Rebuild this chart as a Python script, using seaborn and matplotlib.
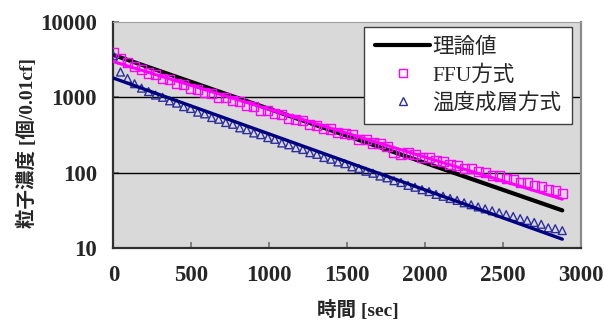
import numpy as np
import pandas as pd
import matplotlib
matplotlib.use("Agg")
import matplotlib.pyplot as plt
from matplotlib.lines import Line2D
import seaborn as sns

# Sampling times [sec] (one reading every 45 s)
time_sec = np.arange(0, 2881, 45)

# Particle concentration, FFU system [count/0.01cf]
ffu = [3880, 3250, 2840, 2540, 2330, 2080, 2000, 1770, 1690, 1510,
       1460, 1310, 1270, 1140, 1100, 990, 980, 890, 870, 770,
       745, 665, 660, 600, 585, 520, 500, 485, 430, 420,
       382, 377, 338, 327, 322, 275, 271, 246, 245, 219,
       183, 176, 181, 175, 159, 158, 143, 140, 127, 125,
       114, 112, 102, 100, 91, 90, 82.5, 81, 74, 73,
       66.7, 64.7, 59, 57.7, 53]

# Particle concentration, thermal stratification system [count/0.01cf]
strat = [3500, 2140, 1760, 1500, 1310, 1180, 1060, 990, 890, 830,
         745, 705, 630, 598, 535, 507, 459, 435, 390, 369,
         334, 317, 290, 275, 246, 233, 213, 202, 183, 174,
         158, 150, 138, 131, 119, 113, 104, 97.8, 89.8, 85.0,
         77.9, 73.7, 67.5, 63.8, 59.2, 55.9, 51.3, 48.4, 45.3, 42.7,
         39.7, 37.4, 35.0, 33.0, 31.1, 29.3, 27.7, 26.1, 24.5, 23.2,
         21.8, 20.6, 18.5, 18.0, 17.0]

# Theoretical decay and exponential trend lines (start / end values)
line_t = [0, 2880]
theory = [3600, 31.5]
ffu_trend = [2940, 44.3]
strat_trend = [1780, 13.1]

x_ticks = [0, 500, 1000, 1500, 2000, 2500, 3000]
y_ticks = [10, 100, 1000, 10000]

labels = ["理論値", "FFU方式", "温度成層方式"]
x_label = "時間 [sec]"
y_label = "粒子濃度 [個/0.01cf]"

pts = pd.DataFrame({"t": time_sec, "ffu": ffu, "strat": strat})
lines = pd.DataFrame({"t": line_t, "theory": theory,
                      "ffu_trend": ffu_trend, "strat_trend": strat_trend})

sns.set_style("white")
plt.rcParams["font.family"] = ["Liberation Serif", "Noto Sans CJK JP", "DejaVu Sans"]

MAGENTA = "#FF00FF"
NAVY = "#000080"
TRI = "#2E2E9E"

fig = plt.figure(figsize=(6.05, 3.23), dpi=100)
ax = fig.add_axes([0.1876, 0.2322, 0.7727, 0.7012])
ax.set_facecolor("#D9D9D9")

ax.set_yscale("log")
ax.set_xlim(0, 3000)
ax.set_ylim(10, 10000)

# horizontal gridlines at the inner decades
for v in y_ticks[1:-1]:
    ax.axhline(v, color="black", lw=1.0, zorder=1)

sns.lineplot(data=lines, x="t", y="theory", ax=ax, color="black", lw=3.0,
             zorder=3, legend=False)
sns.scatterplot(data=pts, x="t", y="ffu", ax=ax, marker="s", s=44,
                facecolors="none", edgecolors=MAGENTA, linewidths=1.0,
                zorder=4, legend=False)
sns.scatterplot(data=pts, x="t", y="strat", ax=ax, marker="^", s=32,
                facecolors="none", edgecolors=TRI, linewidths=1.0,
                zorder=4, legend=False)
sns.lineplot(data=lines, x="t", y="ffu_trend", ax=ax, color=MAGENTA, lw=2.2,
             zorder=5, legend=False)
sns.lineplot(data=lines, x="t", y="strat_trend", ax=ax, color=NAVY, lw=2.4,
             zorder=5, legend=False)

ax.set_xticks(x_ticks)
ax.set_yticks(y_ticks)
ax.yaxis.set_minor_locator(matplotlib.ticker.NullLocator())
ax.set_xticklabels([str(v) for v in x_ticks])
ax.set_yticklabels([str(v) for v in y_ticks])

tick_font = dict(family="Liberation Serif", weight="bold", size=16.5)
for lab in ax.get_xticklabels() + ax.get_yticklabels():
    lab.set_fontproperties(matplotlib.font_manager.FontProperties(**tick_font))
ax.tick_params(axis="both", direction="in", length=4, width=1.2,
               color="#707070", pad=12, bottom=True, left=True)

for side in ["left", "bottom"]:
    ax.spines[side].set_color("#303030")
    ax.spines[side].set_linewidth(1.6)
ax.spines["right"].set_color("#8A8A8A")
ax.spines["right"].set_linewidth(1.6)
ax.spines["top"].set_color("#A0A0A0")
ax.spines["top"].set_linewidth(0.8)

ax.set_xlabel(x_label, fontsize=14, fontweight="bold")
ax.set_ylabel(y_label, fontsize=14, fontweight="bold")
ax.xaxis.label.set_va("center")
ax.yaxis.label.set_va("center")
ax.xaxis.set_label_coords(0.523, -0.274)
ax.yaxis.set_label_coords(-0.186, 0.464)

handles = [
    Line2D([], [], color="black", lw=3.0),
    Line2D([], [], ls="none", marker="s", ms=6, mfc="none", mec=MAGENTA, mew=1.0),
    Line2D([], [], ls="none", marker="^", ms=6, mfc="none", mec=TRI, mew=1.0),
]
leg = ax.legend(handles, labels, loc="upper right",
                bbox_to_anchor=((572 - 113.5) / 467.5, (248 - 27) / 226.5),
                fontsize=15.5, frameon=True, fancybox=False, framealpha=1,
                edgecolor="#404040", facecolor="white", borderpad=0.5,
                handlelength=2.55, handletextpad=0.1, labelspacing=0.33,
                borderaxespad=0)
leg.get_frame().set_linewidth(1.0)

fig.savefig("out.png", dpi=100)
